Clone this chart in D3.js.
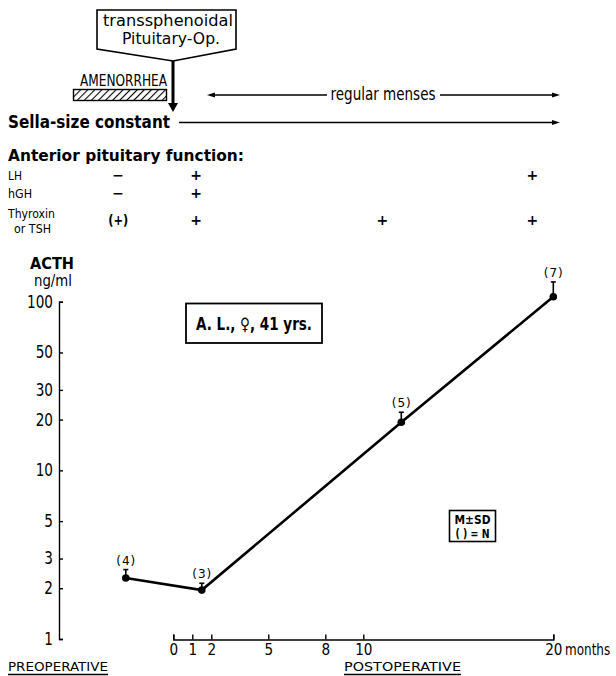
<!DOCTYPE html>
<html>
<head>
<meta charset="utf-8">
<script src="https://cdn.jsdelivr.net/npm/d3@7"></script>
<style>
  body { margin: 0; background: #fff; }
  svg { display: block; }
  text { font-family: "DejaVu Sans", "Liberation Sans", sans-serif; fill: #000; }
</style>
</head>
<body>
<svg id="chart" width="616" height="676"></svg>
<script>
// ---- data ----
const months = [-2.5, 1.5, 12, 20];
const acth = [2.3, 1.95, 19.3, 107];
const sdUpper = [2.58, 2.14, 22.1, 131];
const nLabels = ["(4)", "(3)", "(5)", "(7)"];
const xTicks = [0, 1, 2, 5, 8, 10, 20];
const yTicks = [1, 2, 3, 5, 10, 20, 30, 50, 100];
const funcRows = ["LH", "hGH", "Thyroxin|or TSH"];
const funcColMonths = [-2.9, 1.2, 11, 18.9];
const funcLH = ["−", "+", "", "+"];
const funcHGH = ["−", "+", "", ""];
const funcTSH = ["(+)", "+", "+", "+"];

const svg = d3.select("#chart");
const x = d3.scaleLinear().domain([0, 20]).range([173.3, 553.3]);
const y = d3.scaleLog().domain([1, 100]).range([639, 301.7]);

// text helper: optional width via textLength (condensed look)
function txt(xp, yp, s, o = {}) {
  const t = svg.append("text").attr("x", xp).attr("y", yp).attr("font-size", o.size || 14)
    .attr("text-anchor", o.anchor || "start").text(s);
  if (o.w) t.attr("textLength", o.w).attr("lengthAdjust", "spacingAndGlyphs");
  if (o.weight) t.style("font-weight", o.weight);
  return t;
}
// condensed text via horizontal scaling
function ctxt(xp, yp, s, sx, o = {}) {
  const t = svg.append("text").attr("transform", `translate(${xp},${yp}) scale(${sx},1)`)
    .attr("font-size", o.size || 14).attr("text-anchor", o.anchor || "start").text(s);
  if (o.weight) t.style("font-weight", o.weight);
  return t;
}

// ---- y axis ----
const yAxis = d3.axisLeft(y).tickValues(yTicks).tickFormat(d3.format("d"))
  .tickSizeInner(-4).tickSizeOuter(-4).tickPadding(6);
const gy = svg.append("g").attr("transform", "translate(59,0)").call(yAxis);
gy.selectAll("path,line").attr("stroke", "#000").attr("stroke-width", 1.4);
gy.selectAll("text").attr("font-size", 17).attr("font-family", null)
  .attr("transform", "scale(0.8,1)").attr("x", -7.5);

// ---- x axis ----
const xAxis = d3.axisBottom(x).tickValues(xTicks).tickFormat(d3.format("d"))
  .tickSizeInner(-5).tickSizeOuter(-5).tickPadding(4);
const gx = svg.append("g").attr("transform", "translate(0,639.5)").call(xAxis);
gx.selectAll("path,line").attr("stroke", "#000").attr("stroke-width", 1.4);
gx.selectAll("text").attr("font-size", 16).attr("font-family", null)
  .attr("transform", "scale(0.85,1)");
ctxt(565, 655, "months", 0.8, {size: 15});

// y label
txt(30, 269, "ACTH", {size: 15, w: 44, weight: "bold"});
txt(34, 286, "ng/ml", {size: 15, w: 38});

// PRE / POST labels
const prePost = [{t: "PREOPERATIVE", x: 8, w: 100}, {t: "POSTOPERATIVE", x: 344, w: 117}];
prePost.forEach(p => {
  txt(p.x, 671, p.t, {size: 13, w: p.w});
  svg.append("line").attr("x1", p.x).attr("x2", p.x + p.w).attr("y1", 674.5).attr("y2", 674.5)
    .attr("stroke", "#000").attr("stroke-width", 1.3);
});

// ---- data line ----
const pts = months.map((m, i) => ({m, v: acth[i], sd: sdUpper[i], n: nLabels[i]}));
svg.append("path").datum(pts)
  .attr("d", d3.line().x(d => x(d.m)).y(d => y(d.v)))
  .attr("fill", "none").attr("stroke", "#000").attr("stroke-width", 2.6);
const gp = svg.append("g").selectAll("g").data(pts).join("g");
gp.append("line").attr("x1", d => x(d.m)).attr("x2", d => x(d.m))
  .attr("y1", d => y(d.v)).attr("y2", d => y(d.sd)).attr("stroke", "#000").attr("stroke-width", 1.6);
gp.append("line").attr("x1", d => x(d.m) - 2.5).attr("x2", d => x(d.m) + 2.5)
  .attr("y1", d => y(d.sd)).attr("y2", d => y(d.sd)).attr("stroke", "#000").attr("stroke-width", 1.6);
gp.append("circle").attr("cx", d => x(d.m)).attr("cy", d => y(d.v)).attr("r", 3.8).attr("fill", "#000");
gp.append("text").attr("x", d => x(d.m)).attr("y", d => y(d.sd) - 5)
  .attr("text-anchor", "middle").attr("font-size", 12).attr("textLength", 19)
  .attr("lengthAdjust", "spacing").text(d => d.n);

// ---- patient box ----
svg.append("rect").attr("x", 186).attr("y", 303.5).attr("width", 136).attr("height", 39.5)
  .attr("fill", "none").attr("stroke", "#000").attr("stroke-width", 1.8);
txt(254, 330, "A. L., ♀, 41 yrs.", {size: 17, anchor: "middle", w: 116, weight: 600});

// ---- legend box ----
svg.append("rect").attr("x", 449.5).attr("y", 510.5).attr("width", 46).attr("height", 31)
  .attr("fill", "none").attr("stroke", "#000").attr("stroke-width", 1.6);
txt(472.5, 523.5, "M±SD", {size: 11.5, anchor: "middle", w: 36, weight: "bold"});
txt(472.5, 537.5, "( ) = N", {size: 11.5, anchor: "middle", w: 34, weight: "bold"});

// ---- top annotation: operation box ----
svg.append("path").attr("d", "M97,10 H236 V49 L173,61 L97,49 Z")
  .attr("fill", "none").attr("stroke", "#000").attr("stroke-width", 1.6);
txt(168, 26, "transsphenoidal", {size: 16.5, anchor: "middle", w: 130});
txt(171, 44, "Pituitary-Op.", {size: 16.5, anchor: "middle", w: 98});
svg.append("line").attr("x1", 173).attr("x2", 173).attr("y1", 61).attr("y2", 104)
  .attr("stroke", "#000").attr("stroke-width", 3);
svg.append("path").attr("d", "M168,103 L178,103 L173,112 Z").attr("fill", "#000");

// amenorrhea
const defs = svg.append("defs");
const pat = defs.append("pattern").attr("id", "hatch").attr("patternUnits", "userSpaceOnUse")
  .attr("width", 5).attr("height", 5).attr("patternTransform", "rotate(45)");
pat.append("rect").attr("width", 5).attr("height", 5).attr("fill", "#fff");
pat.append("line").attr("x1", 0).attr("x2", 0).attr("y1", 0).attr("y2", 5)
  .attr("stroke", "#000").attr("stroke-width", 2.2);
svg.append("rect").attr("x", 73.5).attr("y", 89.5).attr("width", 93).attr("height", 11)
  .attr("fill", "url(#hatch)").attr("stroke", "#000").attr("stroke-width", 1.4);
txt(80, 86, "AMENORRHEA", {size: 15, w: 87});

// regular menses
svg.append("line").attr("x1", 212).attr("x2", 327).attr("y1", 95).attr("y2", 95).attr("stroke", "#000").attr("stroke-width", 1.3);
svg.append("path").attr("d", "M207,95 L215,92.5 L215,97.5 Z").attr("fill", "#000");
txt(383, 100, "regular menses", {size: 17, anchor: "middle", w: 105});
svg.append("line").attr("x1", 440).attr("x2", 555).attr("y1", 95).attr("y2", 95).attr("stroke", "#000").attr("stroke-width", 1.3);
svg.append("path").attr("d", "M560,95 L552,92.5 L552,97.5 Z").attr("fill", "#000");

// sella size
txt(8, 128, "Sella-size constant", {size: 17, w: 162, weight: 600});
svg.append("line").attr("x1", 179).attr("x2", 555).attr("y1", 122.5).attr("y2", 122.5).attr("stroke", "#000").attr("stroke-width", 1.3);
svg.append("path").attr("d", "M560,122.5 L552,120 L552,125 Z").attr("fill", "#000");

// anterior pituitary function
txt(8, 161, "Anterior pituitary function:", {size: 16, w: 236, weight: 600});
const rowY = [180, 198, 218];
const rowW = [[14], [24], [47, 37]];
funcRows.forEach((r, i) => {
  r.split("|").forEach((p, j) => {
    txt(8 + j * 6, rowY[i] + j * 15, p, {size: 12.5, w: rowW[i][j]});
  });
});
const funcData = [funcLH, funcHGH, funcTSH];
funcData.forEach((row, i) => {
  row.forEach((s, j) => {
    if (!s) return;
    txt(x(funcColMonths[j]), i === 2 ? rowY[i] + 7 : rowY[i], s,
      {size: 14, anchor: "middle", weight: "bold", w: s === "(+)" ? 20 : null});
  });
});
</script>
</body>
</html>
